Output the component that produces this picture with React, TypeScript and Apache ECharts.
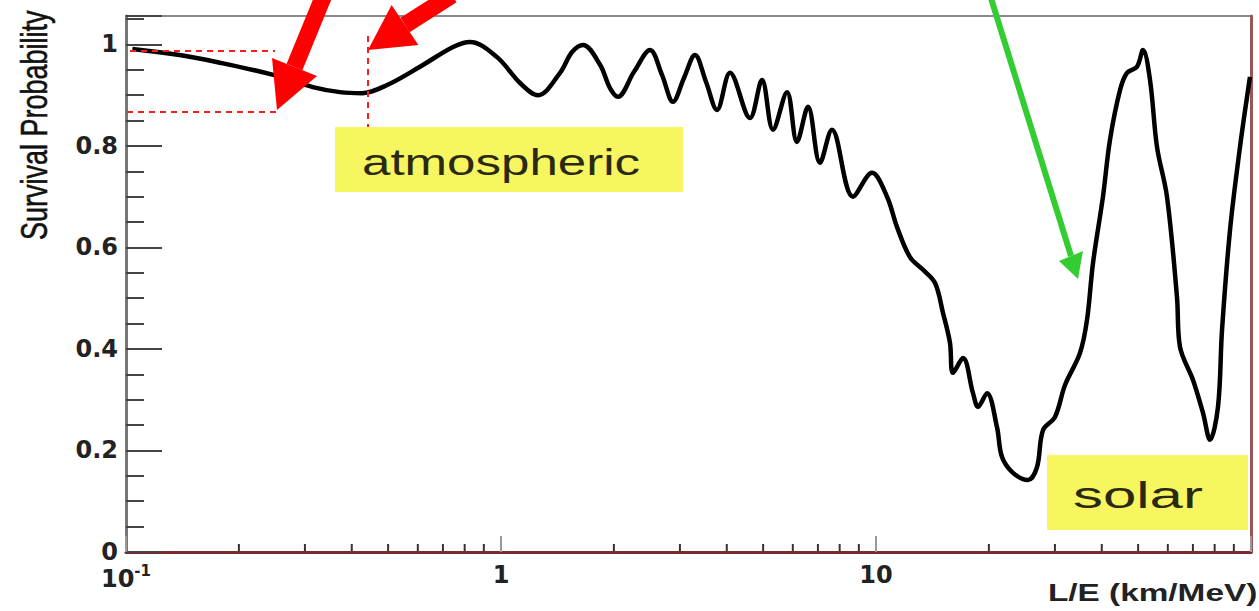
import React, { useEffect, useRef } from "react";
import * as echarts from "echarts";

// L/E (km/MeV) and survival probability
const LE = [
  0.104, 0.139, 0.178, 0.247, 0.315, 0.372, 0.426, 0.497, 0.608, 0.745,
  0.827, 0.976, 1.124, 1.255, 1.437, 1.547, 1.655, 1.837, 1.953, 2.051,
  2.263, 2.497, 2.687, 2.875, 3.076, 3.291, 3.522, 3.767, 4.08, 4.613,
  4.966, 5.313, 5.79, 6.155, 6.588, 7.09, 7.63, 8.686, 9.757, 10.7,
  11.38, 12.32, 13.35, 14.37, 15.09, 15.75, 16.04, 17.06, 18.14, 18.71,
  19.77, 21.02, 21.68, 23.19, 25.43, 26.87, 27.88, 30.01, 31.92, 34.99,
  36.53, 37.9, 40.29, 42.07, 44.74, 46.7, 49.66, 51.52, 53.79, 56.15,
  59.7, 63.48, 64.66, 70.03, 74.47, 77.74, 81.66, 83.7, 87.9, 93.47, 99.39,
];
const SURVIVAL = [
  0.991, 0.979, 0.964, 0.94, 0.916, 0.906, 0.904, 0.92, 0.956, 0.995,
  1.005, 0.975, 0.924, 0.9, 0.944, 0.985, 0.999, 0.96, 0.914, 0.897,
  0.946, 0.989, 0.94, 0.887, 0.934, 0.979, 0.926, 0.871, 0.944, 0.855,
  0.93, 0.832, 0.906, 0.808, 0.877, 0.767, 0.832, 0.7, 0.747, 0.7,
  0.64, 0.581, 0.556, 0.53, 0.471, 0.412, 0.353, 0.382, 0.313, 0.286,
  0.313, 0.246, 0.187, 0.156, 0.142, 0.167, 0.24, 0.266, 0.329, 0.392,
  0.457, 0.569, 0.7, 0.812, 0.91, 0.944, 0.956, 0.989, 0.93, 0.798,
  0.7, 0.502, 0.404, 0.339, 0.274, 0.221, 0.286, 0.437, 0.634, 0.798, 0.936,
];

const X_TICKS = [0.1, 1, 10, 100];
const X_TICK_LABELS = ["{b|10}{s|-1}", "1", "10", ""];
const X_MINOR_TICKS = [
  0.2, 0.3, 0.4, 0.5, 0.6, 0.7, 0.8, 0.9,
  2, 3, 4, 5, 6, 7, 8, 9,
  20, 30, 40, 50, 60, 70, 80, 90,
];
const Y_TICKS = [0, 0.2, 0.4, 0.6, 0.8, 1];
const Y_TICK_LABELS = ["0", "0.2", "0.4", "0.6", "0.8", "1"];
const Y_MAX = 1.056;

const X_TITLE = "L/E (km/MeV)";
const Y_TITLE = "Survival Probability";
const ANNOT_ATM = "atmospheric";
const ANNOT_SOLAR = "solar";

function matchLabel(v: number, ticks: number[], labels: string[], log: boolean) {
  for (let i = 0; i < ticks.length; i++) {
    const a = log ? Math.log10(v) : v;
    const b = log ? Math.log10(ticks[i]) : ticks[i];
    if (Math.abs(a - b) < 1e-6) return labels[i];
  }
  return "";
}

function arrow(
  tail: [number, number],
  base: [number, number],
  c1: [number, number],
  tip: [number, number],
  c2: [number, number],
  color: string,
  width: number
) {
  return [
    {
      type: "line",
      shape: { x1: tail[0], y1: tail[1], x2: base[0], y2: base[1] },
      style: { stroke: color, lineWidth: width },
      z: 100,
    },
    {
      type: "polygon",
      shape: { points: [c1, tip, c2] },
      style: { fill: color },
      z: 100,
    },
  ];
}

export default function App() {
  const ref = useRef<HTMLDivElement>(null);

  useEffect(() => {
    if (!ref.current) return;
    const chart = echarts.init(ref.current, undefined, { renderer: "svg" });
    const labelFont = {
      fontFamily: "DejaVu Sans",
      fontWeight: "bold" as const,
      fontSize: 24,
      color: "#222",
    };
    const dashRed = { stroke: "#ff1a1a", lineWidth: 2, lineDash: [6, 5] };

    chart.setOption({
      animation: false,
      backgroundColor: "#ffffff",
      grid: {
        left: 126,
        right: 8,
        top: 16,
        bottom: 59,
        show: true,
        borderColor: "#8a8a8a",
        borderWidth: 2,
        backgroundColor: "transparent",
      },
      xAxis: {
        type: "log",
        logBase: 10,
        min: 0.1,
        max: 100,
        axisLine: { show: true, lineStyle: { color: "#7b2b2b", width: 3 } },
        axisTick: { show: true, inside: true, length: 16, lineStyle: { color: "#999", width: 2 } },
        axisLabel: {
          ...labelFont,
          margin: 11,
          formatter: (v: number) => matchLabel(v, X_TICKS, X_TICK_LABELS, true),
          rich: {
            b: { ...labelFont, fontSize: 24, lineHeight: 28, verticalAlign: "bottom" },
            s: { ...labelFont, fontSize: 15, lineHeight: 15, verticalAlign: "top" },
          },
        },
        splitLine: { show: false },
        minorTick: { show: false },
      },
      yAxis: [
        {
          type: "value",
          min: 0,
          max: Y_MAX,
          interval: 0.2,
          position: "left",
          axisLine: { show: true, lineStyle: { color: "#777", width: 3 } },
          axisTick: { show: true, inside: true, length: 36, lineStyle: { color: "#444", width: 2 } },
          axisLabel: {
            ...labelFont,
            margin: 8,
            formatter: (v: number) => matchLabel(v, Y_TICKS, Y_TICK_LABELS, false),
          },
          splitLine: { show: false },
        },
        {
          type: "value",
          min: 0,
          max: Y_MAX,
          interval: 0.05,
          position: "left",
          offset: 0,
          axisLine: { show: false },
          axisTick: { show: true, inside: true, length: 18, lineStyle: { color: "#444", width: 2 } },
          axisLabel: { show: false },
          splitLine: { show: false },
        },
        {
          type: "value",
          min: 0,
          max: Y_MAX,
          position: "right",
          axisLine: { show: true, lineStyle: { color: "#9b5555", width: 3 } },
          axisTick: { show: false },
          axisLabel: { show: false },
          splitLine: { show: false },
        },
      ],
      series: [
        {
          name: Y_TITLE,
          type: "line",
          data: LE.map((x, i) => [x, SURVIVAL[i]]),
          showSymbol: false,
          smooth: 0.35,
          lineStyle: { color: "#000", width: 4.5 },
          z: 5,
        },
        {
          type: "custom",
          silent: true,
          clip: false,
          data: X_MINOR_TICKS.map((v) => [v, 0]),
          renderItem: (params: any, api: any) => {
            const p = api.coord([api.value(0), 0]);
            return {
              type: "line",
              shape: { x1: p[0], y1: p[1] - 1, x2: p[0], y2: p[1] - 8 },
              style: { stroke: "#333", lineWidth: 2 },
            };
          },
          z: 6,
        },
      ],
      graphic: [
        {
          type: "text",
          x: 34,
          y: 240,
          rotation: Math.PI / 2,
          scaleY: 1.4,
          style: {
            text: Y_TITLE,
            font: "500 27px 'Liberation Sans'",
            fill: "#111",
            align: "left",
            verticalAlign: "middle",
            stroke: "#111",
            lineWidth: 0.4,
          },
        },
        {
          type: "text",
          x: 1048,
          y: 581,
          scaleX: 1.45,
          style: {
            text: X_TITLE,
            font: "bold 23px 'Liberation Sans'",
            fill: "#222",
            align: "left",
            verticalAlign: "top",
          },
        },
        { type: "rect", shape: { x: 335, y: 127, width: 348, height: 65 }, style: { fill: "#f8f660" }, z: 1 },
        {
          type: "text",
          x: 362,
          y: 162,
          scaleX: 1.38,
          style: {
            text: ANNOT_ATM,
            font: "37px 'Liberation Sans'",
            fill: "#2a2a14",
            align: "left",
            verticalAlign: "middle",
          },
          z: 2,
        },
        { type: "rect", shape: { x: 1047, y: 455, width: 201, height: 75 }, style: { fill: "#f8f660" }, z: 1 },
        {
          type: "text",
          x: 1073,
          y: 495,
          scaleX: 1.62,
          style: {
            text: ANNOT_SOLAR,
            font: "37px 'Liberation Sans'",
            fill: "#2a2a14",
            align: "left",
            verticalAlign: "middle",
          },
          z: 2,
        },
        { type: "line", shape: { x1: 130, y1: 51, x2: 275, y2: 51 }, style: dashRed, z: 90 },
        { type: "line", shape: { x1: 127, y1: 112, x2: 278, y2: 112 }, style: dashRed, z: 90 },
        { type: "line", shape: { x1: 368, y1: 36, x2: 368, y2: 127 }, style: dashRed, z: 90 },
        ...arrow([324, -5], [294.5, 67], [272, 58], [277, 110], [317, 76], "#ff0000", 17),
        ...arrow([452, -5], [405, 25], [391.6, 5], [368, 50], [418.4, 45], "#ff0000", 17),
        ...arrow([990, -5], [1071, 256], [1059, 261], [1078, 279], [1083, 251], "#33cc33", 6),
      ],
    });

    return () => chart.dispose();
  }, []);

  return (
    <div
      ref={ref}
      style={{ position: "fixed", left: 0, top: 0, width: 1259, height: 611, background: "#fff" }}
    />
  );
}
